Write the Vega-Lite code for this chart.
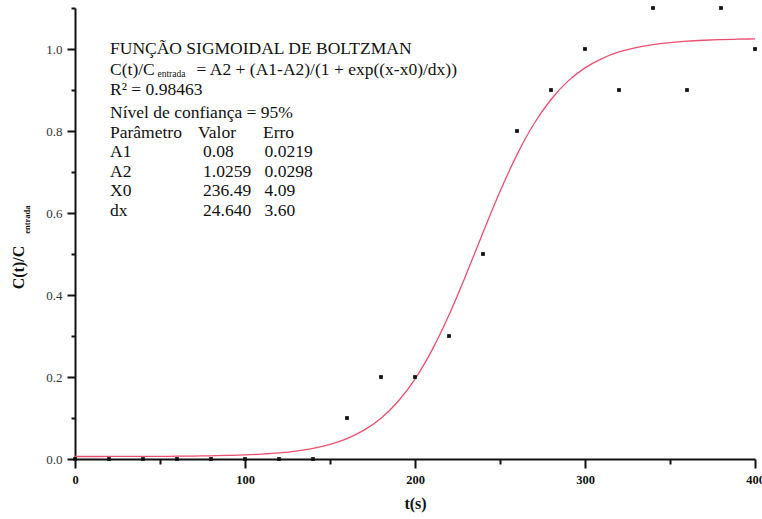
{
  "$schema": "https://vega.github.io/schema/vega-lite/v6.json",
  "width": 680,
  "height": 451,
  "autosize": "none",
  "padding": {"left": 75, "top": 8, "right": 7, "bottom": 60},
  "background": "white",
  "config": {
    "view": {"stroke": null},
    "axis": {
      "grid": false,
      "domainColor": "#111",
      "domainWidth": 2,
      "tickColor": "#111",
      "tickWidth": 2,
      "labelFlush": false,
      "labelOverlap": false,
      "labelFont": "Liberation Serif",
      "titleFont": "Liberation Serif"
    },
    "text": {"font": "Liberation Serif"}
  },
  "datasets": {
    "pts": [
      {"t": 0, "c": 0}, {"t": 20, "c": 0}, {"t": 40, "c": 0}, {"t": 60, "c": 0},
      {"t": 80, "c": 0}, {"t": 100, "c": 0}, {"t": 120, "c": 0}, {"t": 140, "c": 0},
      {"t": 160, "c": 0.1}, {"t": 180, "c": 0.2}, {"t": 200, "c": 0.2}, {"t": 220, "c": 0.3},
      {"t": 240, "c": 0.5}, {"t": 260, "c": 0.8}, {"t": 280, "c": 0.9}, {"t": 300, "c": 1.0},
      {"t": 320, "c": 0.9}, {"t": 340, "c": 1.1}, {"t": 360, "c": 0.9}, {"t": 380, "c": 1.1},
      {"t": 400, "c": 1.0}
    ],
    "curve": [
      {"t": 0, "c": 0.0061}, {"t": 10, "c": 0.0061}, {"t": 20, "c": 0.0062}, {"t": 30, "c": 0.0063},
      {"t": 40, "c": 0.0064}, {"t": 50, "c": 0.0065}, {"t": 60, "c": 0.0068}, {"t": 70, "c": 0.0072},
      {"t": 80, "c": 0.0078}, {"t": 90, "c": 0.0087}, {"t": 100, "c": 0.0100}, {"t": 110, "c": 0.0120},
      {"t": 120, "c": 0.0149}, {"t": 130, "c": 0.0194}, {"t": 140, "c": 0.0259}, {"t": 150, "c": 0.0356},
      {"t": 160, "c": 0.0498}, {"t": 170, "c": 0.0703}, {"t": 180, "c": 0.0995}, {"t": 190, "c": 0.1402},
      {"t": 200, "c": 0.1950}, {"t": 210, "c": 0.2656}, {"t": 220, "c": 0.3514}, {"t": 230, "c": 0.4492},
      {"t": 240, "c": 0.5522}, {"t": 250, "c": 0.6524}, {"t": 260, "c": 0.7423}, {"t": 270, "c": 0.8176},
      {"t": 280, "c": 0.8769}, {"t": 290, "c": 0.9216}, {"t": 300, "c": 0.9539}, {"t": 310, "c": 0.9767},
      {"t": 320, "c": 0.9927}, {"t": 330, "c": 1.0035}, {"t": 340, "c": 1.0109}, {"t": 350, "c": 1.0158},
      {"t": 360, "c": 1.0192}, {"t": 370, "c": 1.0214}, {"t": 380, "c": 1.0229}, {"t": 390, "c": 1.0239},
      {"t": 400, "c": 1.0246}
    ],
    "ann": [
      {"t": 20.6, "c": 1.0, "label": "FUNÇÃO SIGMOIDAL DE BOLTZMAN"},
      {"t": 20.6, "c": 0.950, "label": "C(t)/C"},
      {"t": 71.5, "c": 0.950, "label": "= A2 + (A1-A2)/(1 + exp((x-x0)/dx))"},
      {"t": 20.6, "c": 0.900, "label": "R² = 0.98463"},
      {"t": 20.6, "c": 0.844, "label": "Nível de confiança = 95%"},
      {"t": 20.6, "c": 0.795, "label": "Parâmetro"},
      {"t": 72.4, "c": 0.795, "label": "Valor"},
      {"t": 110.6, "c": 0.795, "label": "Erro"},
      {"t": 20.6, "c": 0.748, "label": "A1"},
      {"t": 75.3, "c": 0.748, "label": "0.08"},
      {"t": 111.5, "c": 0.748, "label": "0.0219"},
      {"t": 20.6, "c": 0.701, "label": "A2"},
      {"t": 75.3, "c": 0.701, "label": "1.0259"},
      {"t": 111.5, "c": 0.701, "label": "0.0298"},
      {"t": 20.6, "c": 0.653, "label": "X0"},
      {"t": 75.3, "c": 0.653, "label": "236.49"},
      {"t": 111.5, "c": 0.653, "label": "4.09"},
      {"t": 20.6, "c": 0.604, "label": "dx"},
      {"t": 75.3, "c": 0.604, "label": "24.640"},
      {"t": 111.5, "c": 0.604, "label": "3.60"}
    ],
    "sub": [
      {"t": 48.5, "c": 0.940, "label": "entrada"}
    ],
    "ysub": [
      {"t": -28.5, "c": 0.584, "label": "entrada"}
    ]
  },
  "layer": [
    {
      "data": {"name": "curve"},
      "mark": {"type": "line", "color": "#ec4f6e", "strokeWidth": 1.3, "interpolate": "monotone"},
      "encoding": {
        "x": {
          "field": "t", "type": "quantitative",
          "scale": {"domain": [0, 400], "nice": false, "zero": false},
          "axis": {
            "values": [0, 100, 200, 300, 400], "format": "d",
            "tickSize": 9, "labelPadding": 5,
            "labelFontSize": 12.5, "labelFontWeight": "bold", "labelColor": "#111",
            "title": "t(s)", "titleFontSize": 16, "titleFontWeight": "bold", "titleColor": "#111",
            "titlePadding": 10
          }
        },
        "y": {
          "field": "c", "type": "quantitative",
          "scale": {"domain": [0, 1.1], "nice": false, "zero": false},
          "axis": {
            "values": [0, 0.2, 0.4, 0.6, 0.8, 1.0], "format": ".1f",
            "tickSize": 8, "labelPadding": 5,
            "labelFontSize": 13, "labelColor": "#333",
            "title": "C(t)/C", "titleFontSize": 16, "titleFontWeight": "bold", "titleColor": "#111",
            "titleAngle": 270, "titleX": -57, "titleY": 259, "titleAlign": "center", "titleBaseline": "middle"
          }
        }
      }
    },
    {
      "data": {"name": "pts"},
      "mark": {"type": "square", "color": "#111", "size": 14, "opacity": 1},
      "encoding": {
        "x": {
          "field": "t", "type": "quantitative",
          "scale": {"domain": [0, 400], "nice": false, "zero": false},
          "axis": {"orient": "bottom", "values": [50, 150, 250, 350], "labels": false, "tickSize": 5, "domain": false, "title": null}
        },
        "y": {
          "field": "c", "type": "quantitative",
          "scale": {"domain": [0, 1.1], "nice": false, "zero": false},
          "axis": {"orient": "left", "values": [0.1, 0.3, 0.5, 0.7, 0.9, 1.1], "labels": false, "tickSize": 4, "domain": false, "title": null}
        }
      }
    },
    {
      "data": {"name": "ann"},
      "mark": {"type": "text", "fontSize": 17.5, "align": "left", "baseline": "middle", "color": "#111"},
      "encoding": {
        "x": {"field": "t", "type": "quantitative", "scale": {"domain": [0, 400], "nice": false, "zero": false}, "axis": null},
        "y": {"field": "c", "type": "quantitative", "scale": {"domain": [0, 1.1], "nice": false, "zero": false}, "axis": null},
        "text": {"field": "label"}
      }
    },
    {
      "data": {"name": "sub"},
      "mark": {"type": "text", "fontSize": 9.5, "align": "left", "baseline": "middle", "color": "#111"},
      "encoding": {
        "x": {"field": "t", "type": "quantitative", "scale": {"domain": [0, 400], "nice": false, "zero": false}, "axis": null},
        "y": {"field": "c", "type": "quantitative", "scale": {"domain": [0, 1.1], "nice": false, "zero": false}, "axis": null},
        "text": {"field": "label"}
      }
    },
    {
      "data": {"name": "ysub"},
      "mark": {"type": "text", "fontSize": 8.5, "fontWeight": "bold", "angle": 270, "align": "center", "baseline": "middle", "color": "#111"},
      "encoding": {
        "x": {"field": "t", "type": "quantitative", "scale": {"domain": [0, 400], "nice": false, "zero": false}, "axis": null},
        "y": {"field": "c", "type": "quantitative", "scale": {"domain": [0, 1.1], "nice": false, "zero": false}, "axis": null},
        "text": {"field": "label"}
      }
    }
  ],
  "resolve": {"axis": {"x": "independent", "y": "independent"}}
}
